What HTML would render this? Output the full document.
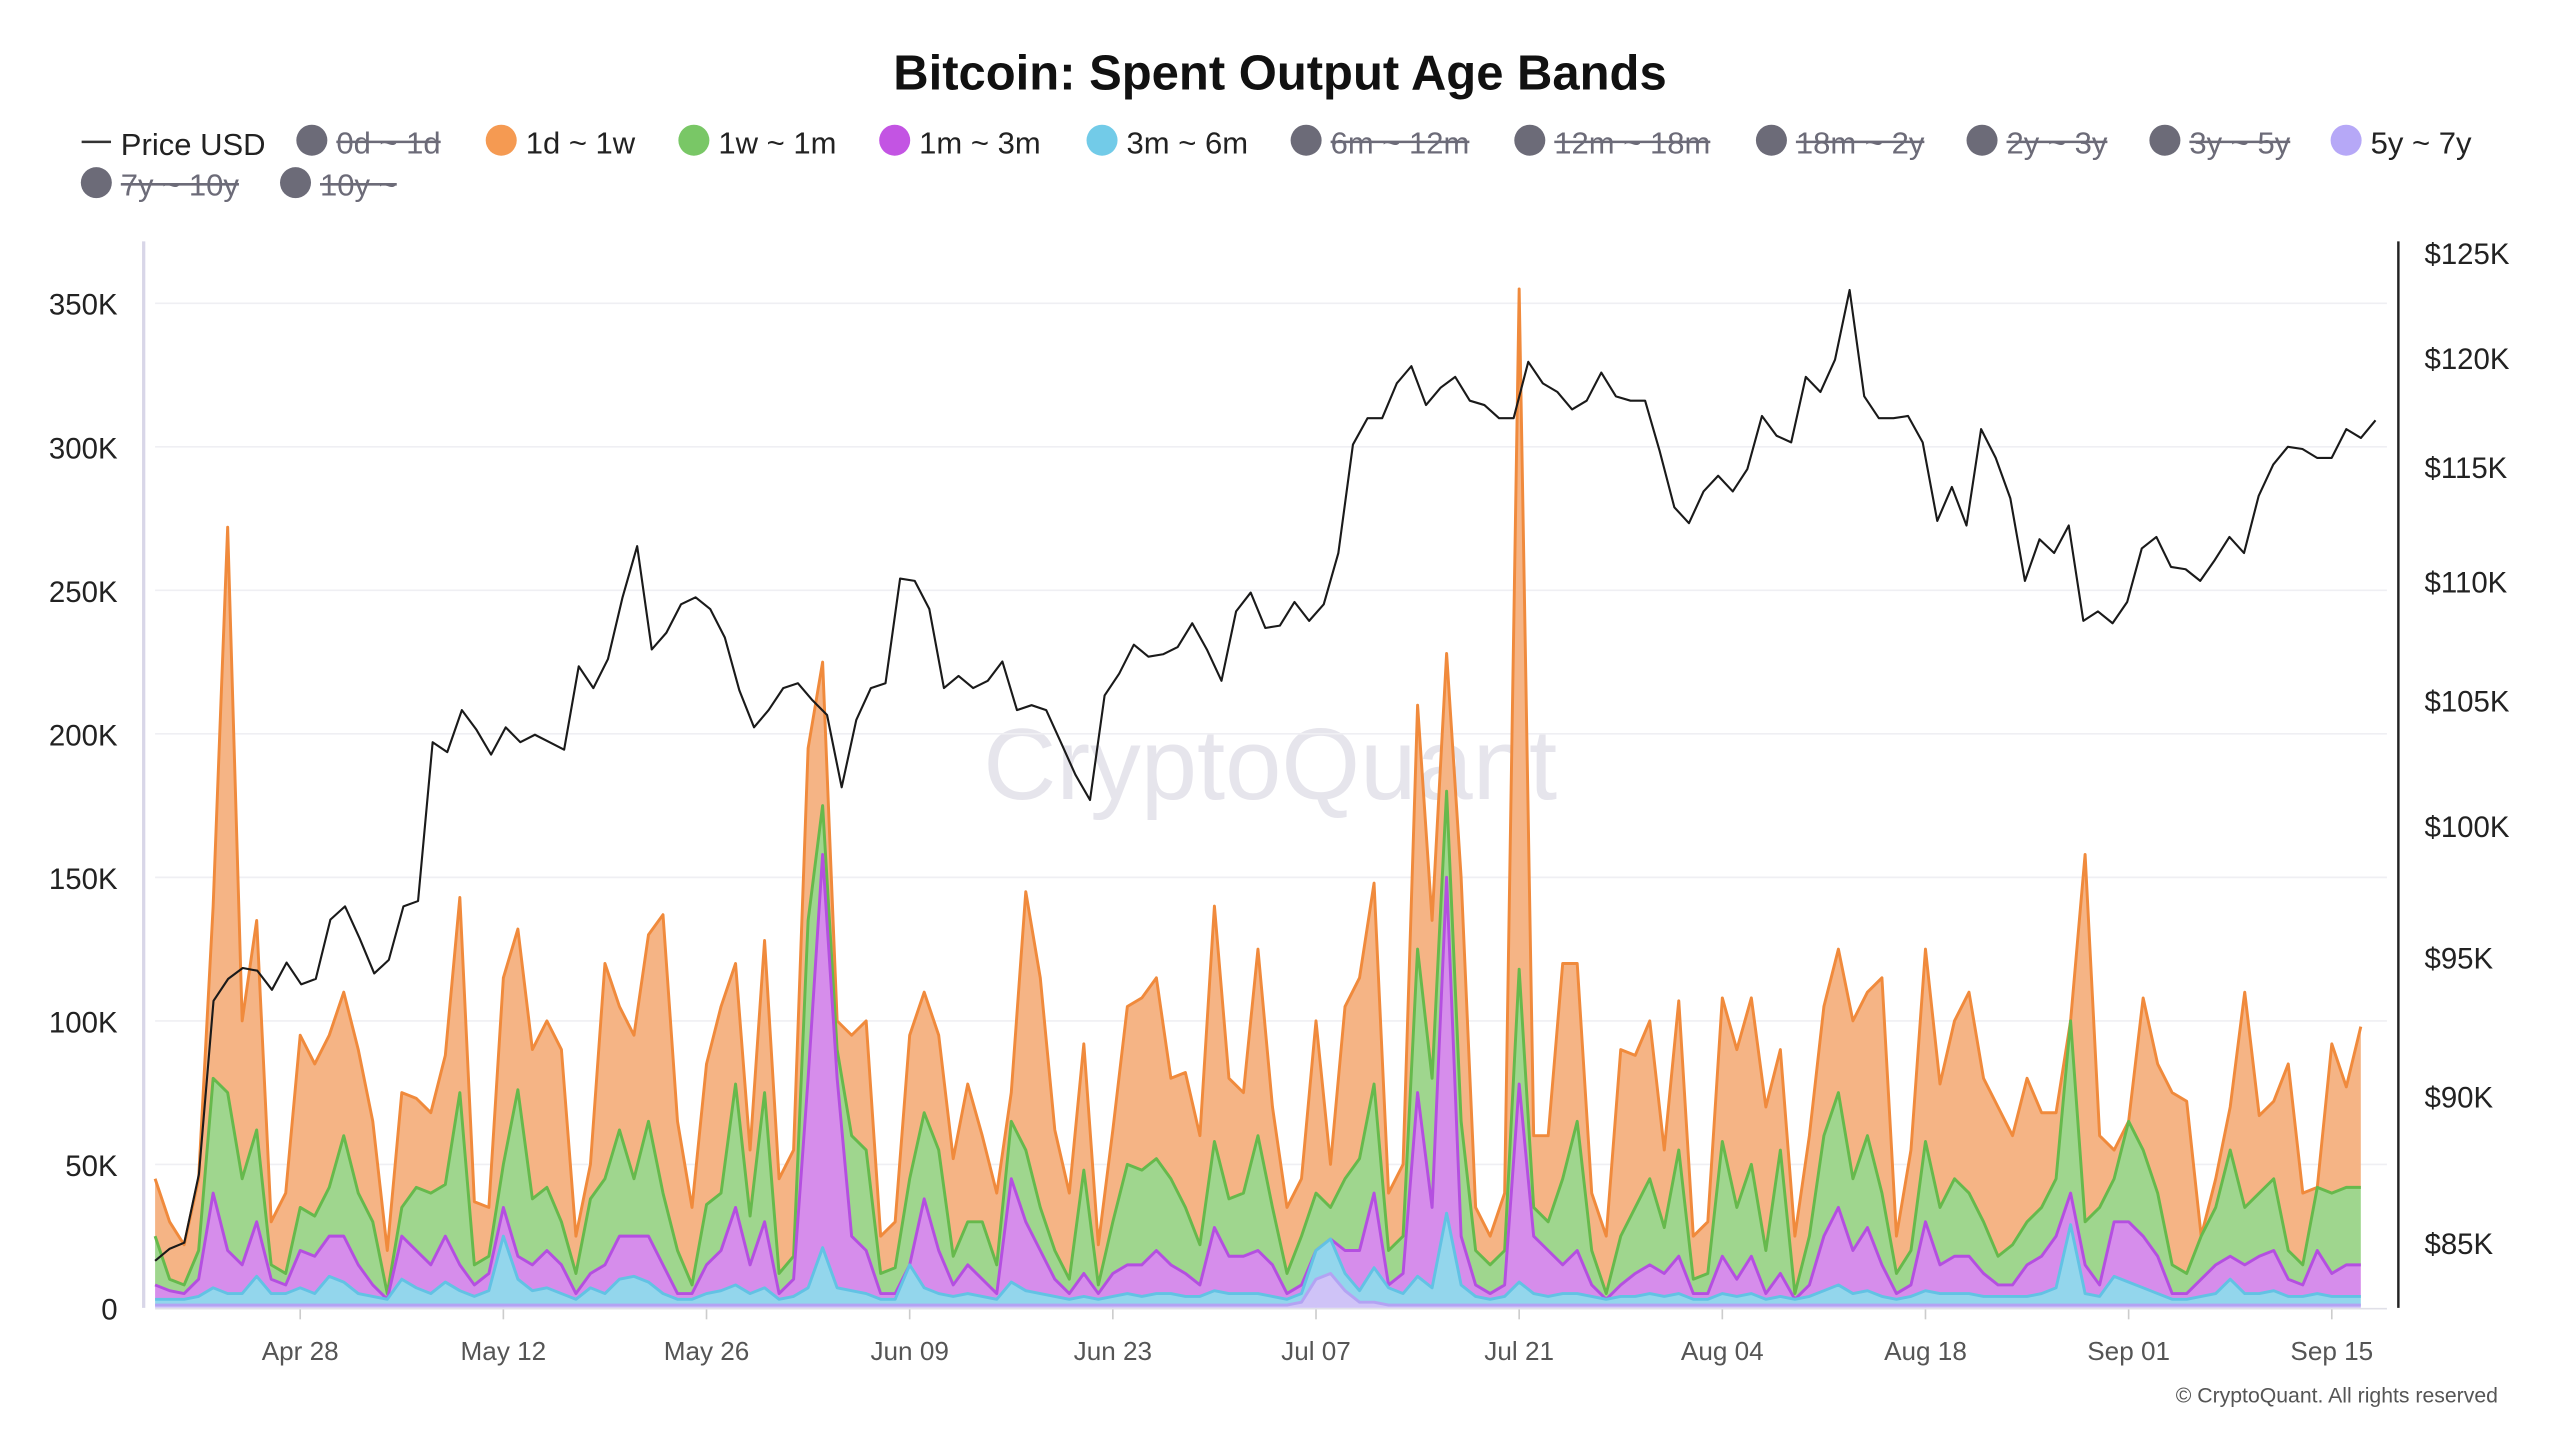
<!DOCTYPE html>
<html><head><meta charset="utf-8"><style>
html,body{margin:0;padding:0;background:#fff;}
svg{display:block;font-family:"Liberation Sans",sans-serif;}
</style></head><body>
<svg id="chart" width="2560" height="1440" viewBox="0 0 1568 883" preserveAspectRatio="none" xmlns="http://www.w3.org/2000/svg">
<rect x="0" y="0" width="1568" height="883" fill="#fff"/>
<text x="784" y="55" text-anchor="middle" font-size="30" font-weight="bold" fill="#111">Bitcoin: Spent Output Age Bands</text>
<g id="legend" font-size="19"></g>
<text x="778" y="490" text-anchor="middle" font-size="62" fill="#e6e5ec">CryptoQuant</text>
<g id="grid"></g>
<g id="areas"></g>
<g id="price"></g>
<g id="axes"></g>
<text x="1530" y="860" text-anchor="end" font-size="13" fill="#555">© CryptoQuant. All rights reserved</text>
</svg>
<script>
const legendLabels=["0d ~ 1d","1d ~ 1w","1w ~ 1m","1m ~ 3m","3m ~ 6m","6m ~ 12m","12m ~ 18m","18m ~ 2y","2y ~ 3y","3y ~ 5y","5y ~ 7y","7y ~ 10y","10y ~"];
const leftTicks=[0,50,100,150,200,250,300,350];
const leftTickLabels=["0","50K","100K","150K","200K","250K","300K","350K"];
const rightTicks=[85,90,95,100,105,110,115,120,125];
const rightTickLabels=["$85K","$90K","$95K","$100K","$105K","$110K","$115K","$120K","$125K"];
const xTickDays=[10,24,38,52,66,80,94,108,122,136,150];
const xTickLabels=["Apr 28","May 12","May 26","Jun 09","Jun 23","Jul 07","Jul 21","Aug 04","Aug 18","Sep 01","Sep 15"];
// Stack level (cumulative top, in K BTC) of the 1d~1w band = total
const stackTop1d1w=[45,30,22,45,140,272,100,135,30,40,95,85,95,110,90,65,20,75,73,68,88,143,37,35,115,132,90,100,90,25,50,120,105,95,130,137,65,35,85,105,120,55,128,45,55,195,225,100,95,100,25,30,95,110,95,52,78,60,40,75,145,115,62,40,92,22,62,105,108,115,80,82,60,140,80,75,125,70,35,45,100,50,105,115,148,40,50,210,135,228,150,35,25,40,355,60,60,120,120,40,25,90,88,100,55,107,25,30,108,90,108,70,90,25,60,105,125,100,110,115,25,55,125,78,100,110,80,70,60,80,68,68,90,158,60,55,65,108,85,75,72,20,45,70,110,67,72,85,40,35,92,77,98];
// Stack level of the 1w~1m band
const stackTop1w1m=[25,10,8,20,80,75,45,62,15,12,35,32,42,60,40,30,5,35,42,40,43,75,15,18,50,76,38,42,30,12,38,45,62,45,65,40,20,8,36,40,78,32,75,12,18,135,175,90,60,55,12,14,45,68,55,18,30,30,15,65,55,35,20,10,48,8,30,50,48,52,45,35,22,58,38,40,60,35,12,25,40,35,45,52,78,20,25,125,80,180,65,20,15,20,118,35,30,45,65,20,5,25,35,45,28,55,10,12,58,35,50,20,55,5,25,60,75,45,60,40,12,20,58,35,45,40,30,18,22,30,35,45,100,30,35,45,65,55,40,15,12,25,35,55,35,40,45,20,15,42,40,42,42];
// Stack level of the 1m~3m band
const stackTop1m3m=[8,6,5,10,40,20,15,30,10,8,20,18,25,25,15,8,3,25,20,15,25,15,8,12,35,18,15,20,15,5,12,15,25,25,25,15,5,5,15,20,35,15,30,5,10,80,158,80,25,20,5,5,15,38,20,8,15,10,5,45,30,20,10,5,12,5,12,15,15,20,15,12,8,28,18,18,20,15,5,8,15,18,20,20,40,8,12,75,35,150,25,8,5,8,78,25,20,15,20,8,2,8,12,15,12,18,5,5,18,10,18,5,12,3,8,25,35,20,28,15,5,8,30,15,18,18,12,8,8,15,18,25,40,15,8,30,30,25,18,5,5,10,15,18,15,18,20,10,8,20,12,15,15];
// 3m~6m values (K)
const band3m6m=[2,2,2,3,6,4,4,10,4,4,6,4,10,8,4,3,2,9,6,4,8,5,3,5,24,9,5,6,4,2,6,4,9,10,8,4,2,2,4,5,7,4,6,2,3,6,20,6,5,4,2,2,14,6,4,3,4,3,2,8,5,4,3,2,3,2,3,4,3,4,4,3,3,5,4,4,4,3,2,3,10,12,6,4,12,6,4,10,6,32,7,3,2,3,8,4,3,4,4,3,2,3,3,4,3,4,2,2,4,3,4,2,3,2,3,5,7,4,5,3,2,3,5,4,4,4,3,3,3,3,4,6,28,4,3,10,8,6,4,2,2,3,4,9,4,4,5,3,3,4,3,3,3];
// 5y~7y values (K)
const band5y7y=[1,1,1,1,1,1,1,1,1,1,1,1,1,1,1,1,1,1,1,1,1,1,1,1,1,1,1,1,1,1,1,1,1,1,1,1,1,1,1,1,1,1,1,1,1,1,1,1,1,1,1,1,1,1,1,1,1,1,1,1,1,1,1,1,1,1,1,1,1,1,1,1,1,1,1,1,1,1,1,2,10,12,6,2,2,1,1,1,1,1,1,1,1,1,1,1,1,1,1,1,1,1,1,1,1,1,1,1,1,1,1,1,1,1,1,1,1,1,1,1,1,1,1,1,1,1,1,1,1,1,1,1,1,1,1,1,1,1,1,1,1,1,1,1,1,1,1,1,1,1,1,1,1];
// BTC price (K USD)
const priceUSD=[84.4,84.8,85.0,87.3,93.4,94.2,94.6,94.5,93.8,94.8,94.0,94.2,96.4,96.9,95.7,94.4,94.9,96.9,97.1,103.3,102.9,104.6,103.8,102.8,103.9,103.3,103.6,103.3,103.0,106.4,105.5,106.7,109.3,111.5,107.1,107.8,109.0,109.3,108.8,107.6,105.4,103.9,104.6,105.5,105.7,105.0,104.4,101.5,104.2,105.5,105.7,110.1,110.0,108.8,105.5,106.0,105.5,105.8,106.6,104.6,104.8,104.6,103.3,102.0,101.0,105.2,106.1,107.3,106.8,106.9,107.2,108.2,107.1,105.8,108.7,109.5,108.0,108.1,109.1,108.3,109.0,111.2,116.0,117.2,117.2,118.8,119.6,117.8,118.6,119.1,118.0,117.8,117.2,117.2,119.8,118.8,118.4,117.6,118.0,119.3,118.2,118.0,118.0,115.7,113.2,112.5,113.9,114.6,113.9,114.9,117.3,116.4,116.1,119.1,118.4,119.9,123.2,118.2,117.2,117.2,117.3,116.1,112.6,114.1,112.4,116.7,115.4,113.6,110.0,111.8,111.2,112.4,108.3,108.7,108.2,109.1,111.4,111.9,110.6,110.5,110.0,110.9,111.9,111.2,113.7,115.1,115.9,115.8,115.4,115.4,116.7,116.3,117.1];

const NS="http://www.w3.org/2000/svg";
function mk(tag,attrs,parent,text){const e=document.createElementNS(NS,tag);for(const k in attrs)e.setAttribute(k,attrs[k]);if(text!==undefined)e.textContent=text;parent.appendChild(e);return e;}
const X0=95,X1=1446,Y0=802,KPX=88/50;
const N=stackTop1d1w.length;
function xDay(i){return X0+i*(X1-X0)/(N-1);}
function yVol(k){return Y0-k*KPX;}
const LOG=Math.log, lp125=LOG(125), lp85=LOG(85);
function yPrice(p){return 155+(lp125-LOG(p))/(lp125-lp85)*(762-155);}
function xPrice(i){return X0+i*(1455-X0)/(priceUSD.length-1);}

// legend
const lg=document.getElementById('legend');
const pl=mk('line',{x1:50,y1:87,x2:68,y2:87,stroke:'#333','stroke-width':1.5},lg);


const pt=mk('text',{x:74,y:95,fill:'#222'},lg,'Price USD');


const legendColors=["#6c6b78","#f59a52","#79c766","#c354e3","#72cbe8","#6c6b78","#6c6b78","#6c6b78","#6c6b78","#6c6b78","#b6a8f7","#6c6b78","#6c6b78"];
const legendOn=[false,true,true,true,true,false,false,false,false,false,true,false,false];
const legendX=[191,307,425,548,675,800,937,1085,1214,1326,1437,59,181];
const legendRow=[0,0,0,0,0,0,0,0,0,0,0,1,1];
for(let i=0;i<legendLabels.length;i++){
  const y=legendRow[i]?112:86;
  const g=mk('g',{},lg);
  
  
  mk('circle',{cx:legendX[i],cy:y,r:9.5,fill:legendColors[i]},g);
  const t=mk('text',{x:legendX[i]+15,y:y+8,fill:legendOn[i]?'#222':'#6c6b78'},g,legendLabels[i]);
  if(!legendOn[i]){const w=t.getComputedTextLength();mk('line',{x1:legendX[i]+15,y1:y+1,x2:legendX[i]+15+w,y2:y+1,stroke:'#6c6b78','stroke-width':1.6},g);}
}

// grid + axes
const grid=document.getElementById('grid'),axes=document.getElementById('axes');
leftTicks.forEach((v,i)=>{
  if(v>0){const gl=mk('line',{x1:95,x2:1462,y1:yVol(v),y2:yVol(v),stroke:'#efeff3','stroke-width':1},grid);
  
  }
  const t=mk('text',{x:72,y:yVol(v)+7,'text-anchor':'end','font-size':18,fill:'#222'},axes,leftTickLabels[i]);
  
  
});
rightTicks.forEach((v,i)=>{
  const t=mk('text',{x:1485,y:yPrice(v)+7,'font-size':18,fill:'#222'},axes,rightTickLabels[i]);
  
  
});
xTickDays.forEach((d,i)=>{
  const x=xDay(d);
  mk('line',{x1:x,x2:x,y1:802,y2:809,stroke:'#ccc'},axes);
  const t=mk('text',{x:x,y:834,'text-anchor':'middle','font-size':16,fill:'#555'},axes,xTickLabels[i]);
  
  
});
const la=mk('line',{x1:88,x2:88,y1:148,y2:802,stroke:'#d8d6e8','stroke-width':2},axes);


const ra=mk('line',{x1:1469,x2:1469,y1:148,y2:802,stroke:'#222','stroke-width':1.5},axes);


const xa=mk('line',{x1:95,x2:1462,y1:802.5,y2:802.5,stroke:'#e0e0e8','stroke-width':1},axes);



// stacked levels
const L0=[],L1=[],L2=[],L3=[],L4=[],L5=[];
for(let i=0;i<N;i++){
  L0[i]=0;
  L1[i]=band5y7y[i];
  L2[i]=L1[i]+band3m6m[i];
  L3[i]=Math.max(L2[i],stackTop1m3m[i]);
  L4[i]=Math.max(L3[i],stackTop1w1m[i]);
  L5[i]=Math.max(L4[i],stackTop1d1w[i]);
}
const areas=document.getElementById('areas');
function band(lo,hi,fill,stroke,name){
  let d='M'+xDay(0)+','+yVol(hi[0]);
  for(let i=1;i<N;i++)d+='L'+xDay(i)+','+yVol(hi[i]);
  for(let i=N-1;i>=0;i--)d+='L'+xDay(i)+','+yVol(lo[i]);
  d+='Z';
  const p=mk('path',{d:d,fill:fill},areas);
  
  
  let l='M'+xDay(0)+','+yVol(hi[0]);
  for(let i=1;i<N;i++)l+='L'+xDay(i)+','+yVol(hi[i]);
  const s=mk('path',{d:l,fill:'none',stroke:stroke,'stroke-width':1.8,'stroke-linejoin':'round'},areas);
  
  
}
band(L4,L5,'#f5b485','#f08a3c','band-1d-1w');
band(L3,L4,'#9fd68e','#66b94c','band-1w-1m');
band(L2,L3,'#d68deb','#b44fe0','band-1m-3m');
band(L1,L2,'#93d6ec','#62c2e4','band-3m-6m');
band(L0,L1,'#cfc3f7','#b3a3f3','band-5y-7y');

// price line
const pg=document.getElementById('price');
let pd='';
priceUSD.forEach((p,i)=>{pd+=(i?'L':'M')+xPrice(i)+','+yPrice(p);});
const pline=mk('path',{d:pd,fill:'none',stroke:'#1a1a1a','stroke-width':1.3,'stroke-linejoin':'round'},pg);


</script>
</body></html>
